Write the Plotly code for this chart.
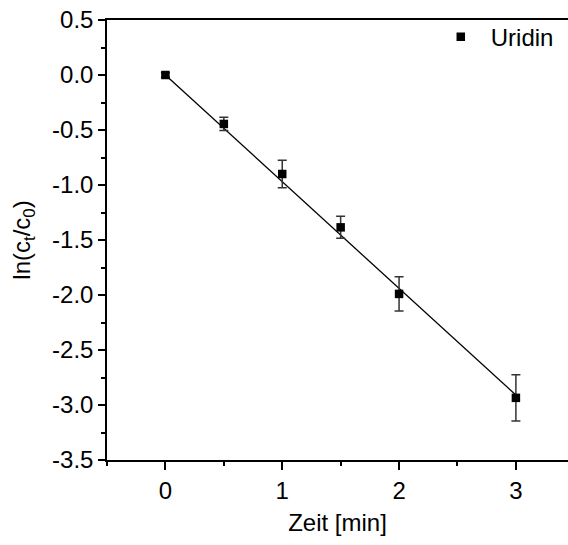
import plotly.graph_objects as go

time_min = [0, 0.5, 1, 1.5, 2, 3]
ln_ratio = [0.0, -0.445, -0.90, -1.385, -1.99, -2.935]
err = [0.02, 0.06, 0.125, 0.10, 0.155, 0.21]

fit_x = [0, 3]
fit_y = [0.0, -2.91]

FONT = "Liberation Sans"
FS = 24

fig = go.Figure()
fig.add_trace(go.Scatter(
    x=fit_x, y=fit_y, mode="lines",
    line=dict(color="black", width=1.3),
    showlegend=False, hoverinfo="skip"))
fig.add_trace(go.Scatter(
    x=time_min, y=ln_ratio, mode="markers", name="Uridin",
    marker=dict(symbol="square", size=8.5, color="black"),
    error_y=dict(type="data", array=err, visible=True,
                 color="#333333", thickness=1.5, width=4.5)))

fig.update_layout(
    width=568, height=545,
    margin=dict(l=107, r=0, t=20, b=85),
    paper_bgcolor="white", plot_bgcolor="white",
    font=dict(family=FONT, size=FS, color="black"),
    showlegend=True,
    legend=dict(x=0.98, xanchor="right", y=1.012, yanchor="top",
                bgcolor="rgba(0,0,0,0)", font=dict(size=FS, family=FONT, color="black"),
                itemwidth=50),
    xaxis=dict(
        range=[-0.5, 3.446], tickvals=[0, 1, 2, 3],
        tickfont=dict(size=FS, family=FONT, color="black"),
        showline=True, linecolor="black", linewidth=1.5, mirror=True,
        ticks="outside", ticklen=8, tickwidth=1.5, tickcolor="black",
        showgrid=False, zeroline=False,
        minor=dict(dtick=0.5, tick0=0, ticks="outside", ticklen=4,
                   tickwidth=1.5, tickcolor="black", showgrid=False),
        title=dict(text="Zeit [min]", font=dict(size=FS, family=FONT, color="black"), standoff=12),
    ),
    yaxis=dict(
        range=[-3.5, 0.5], tickvals=[0.5, 0, -0.5, -1, -1.5, -2, -2.5, -3, -3.5],
        ticktext=["0.5", "0.0", "-0.5", "-1.0", "-1.5", "-2.0", "-2.5", "-3.0", "-3.5"],
        tickfont=dict(size=FS, family=FONT, color="black"),
        showline=True, linecolor="black", linewidth=1.5, mirror=False,
        ticks="outside", ticklen=7, tickwidth=1.5, tickcolor="black",
        showgrid=False, zeroline=False,
        minor=dict(dtick=0.25, tick0=0, ticks="outside", ticklen=4,
                   tickwidth=1.5, tickcolor="black", showgrid=False),
        title=dict(text="ln(c<sub>t</sub>/c<sub>0</sub>)", font=dict(size=FS, family=FONT, color="black"), standoff=15),
    ),
)

fig.write_html("out.html")
